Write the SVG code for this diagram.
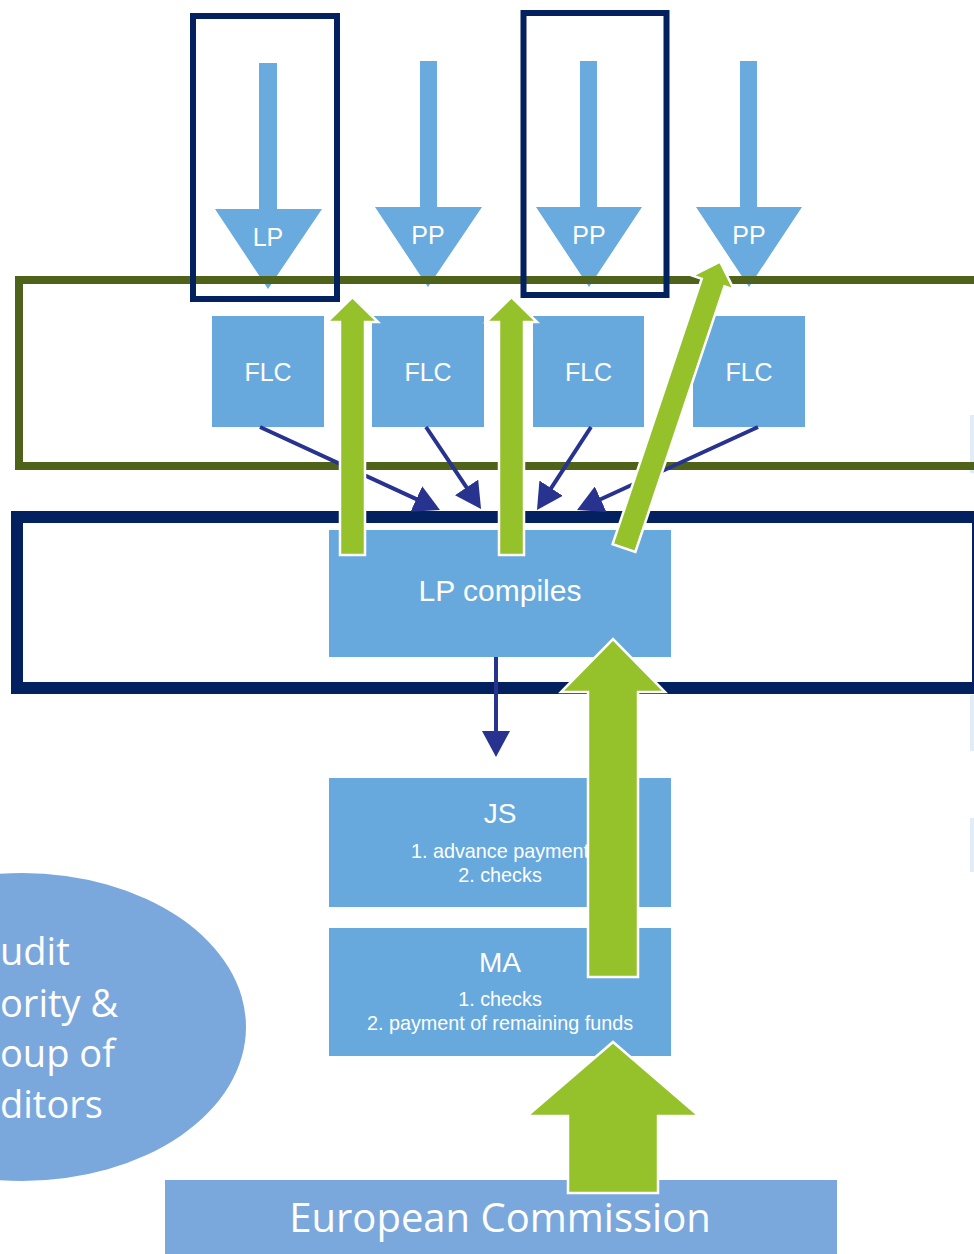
<svg xmlns="http://www.w3.org/2000/svg" width="974" height="1254" viewBox="0 0 974 1254">
  <defs>
    <style>
      .box { fill: #67a9dd; }
      .drop { fill: #69aadf; }
      .soft { fill: #7ba8dc; }
      .lbl { font-family: "Liberation Sans", Arial, sans-serif; fill: #ffffff; text-anchor: middle; }
      .hum { font-family: "Open Sans", "Noto Sans", sans-serif; fill: #ffffff; text-anchor: middle; }
      .hum-left { font-family: "Open Sans", "Noto Sans", sans-serif; fill: #ffffff; text-anchor: start; }
      .frame-navy { fill: none; stroke: #03205f; }
      .frame-green { fill: none; stroke: #4f6219; stroke-width: 8; }
      .link { fill: none; stroke: #27338f; stroke-width: 4; marker-end: url(#head); }
      .flow { fill: #95c12b; stroke: #ffffff; stroke-width: 2.5; stroke-linejoin: miter; }
      .sliver { fill: #e2ecf7; }
    </style>
    <marker id="head" viewBox="0 0 26 28" refX="6" refY="14" markerWidth="26" markerHeight="28" markerUnits="userSpaceOnUse" orient="auto">
      <path d="M0,0 L26,14 L0,28 Z" fill="#27338f"/>
    </marker>
  </defs>

  <rect width="974" height="1254" fill="#ffffff"/>

  <!-- faint slivers along the right edge -->
  <rect class="sliver" x="970" y="415" width="4" height="58"/>
  <rect class="sliver" x="970" y="695" width="4" height="56"/>
  <rect class="sliver" x="970" y="818" width="4" height="54"/>

  <!-- partner drop arrows -->
  <g id="lp-arrow">
    <path class="drop" d="M259,63 H277 V209 H322 L268,289 L215,209 H259 Z"/>
    <text class="lbl" x="268" y="246" font-size="25">LP</text>
  </g>
  <g id="pp-arrow-1">
    <path class="drop" d="M420,61 H437 V207 H482 L428,287 L375,207 H420 Z"/>
    <text class="lbl" x="428" y="244" font-size="25">PP</text>
  </g>
  <g id="pp-arrow-2">
    <path class="drop" d="M580,61 H597 V207 H642 L589,287 L536,207 H580 Z"/>
    <text class="lbl" x="589" y="244" font-size="25">PP</text>
  </g>
  <g id="pp-arrow-3">
    <path class="drop" d="M740,61 H757 V207 H802 L749,287 L696,207 H740 Z"/>
    <text class="lbl" x="749" y="244" font-size="25">PP</text>
  </g>

  <!-- control level frame -->
  <g id="flc-band">
    <rect class="frame-green" x="19" y="280" width="990" height="186"/>
  </g>

  <!-- lead partner level frame -->
  <g id="lp-band">
    <rect class="frame-navy" stroke-width="12" x="17" y="517" width="961" height="171"/>
  </g>

  <!-- highlighted partners -->
  <g id="lp-highlight">
    <rect class="frame-navy" stroke-width="6" x="193" y="16" width="144" height="283"/>
  </g>
  <g id="pp-highlight">
    <rect class="frame-navy" stroke-width="6" x="523.5" y="13" width="143" height="282"/>
  </g>

  <!-- first level controllers -->
  <g id="flc-1">
    <rect class="box" x="212" y="316" width="112" height="111"/>
    <text class="lbl" x="268" y="381" font-size="25">FLC</text>
  </g>
  <g id="flc-2">
    <rect class="box" x="372" y="316" width="112" height="111"/>
    <text class="lbl" x="428" y="381" font-size="25">FLC</text>
  </g>
  <g id="flc-3">
    <rect class="box" x="533" y="316" width="111" height="111"/>
    <text class="lbl" x="588.5" y="381" font-size="25">FLC</text>
  </g>
  <g id="flc-4">
    <rect class="box" x="693" y="316" width="112" height="111"/>
    <text class="lbl" x="749" y="381" font-size="25">FLC</text>
  </g>

  <g id="lp-compiles">
    <rect class="box" x="329" y="530" width="342" height="127"/>
    <text class="lbl" x="500" y="601" font-size="30">LP compiles</text>
  </g>

  <g id="js">
    <rect class="box" x="329" y="778" width="342" height="129"/>
    <text class="lbl" x="500" y="823" font-size="28">JS</text>
    <text class="lbl" x="500" y="858" font-size="19.8">1. advance payment</text>
    <text class="lbl" x="500" y="882" font-size="19.8">2. checks</text>
  </g>

  <g id="ma">
    <rect class="box" x="329" y="928" width="342" height="128"/>
    <text class="lbl" x="500" y="972" font-size="28">MA</text>
    <text class="lbl" x="500" y="1006" font-size="19.8">1. checks</text>
    <text class="lbl" x="500" y="1030" font-size="19.8">2. payment of remaining funds</text>
  </g>

  <g id="audit">
    <ellipse class="soft" cx="22" cy="1027" rx="224" ry="154"/>
    <text class="hum-left" x="0" y="965" font-size="38">udit</text>
    <text class="hum-left" x="0" y="1017" font-size="38">ority &amp;</text>
    <text class="hum-left" x="0" y="1067" font-size="38">oup of</text>
    <text class="hum-left" x="0" y="1118" font-size="38">ditors</text>
  </g>

  <g id="ec">
    <rect class="soft" x="165" y="1180" width="672" height="74"/>
    <text class="hum" x="500" y="1232" font-size="40">European Commission</text>
  </g>

  <g id="connectors">
    <!-- reports from controllers to the lead partner -->
    <line class="link" x1="260" y1="427" x2="421.8" y2="501.6"/>
    <line class="link" x1="426" y1="427" x2="469.9" y2="492.4"/>
    <line class="link" x1="591" y1="427" x2="547.9" y2="493.2"/>
    <line class="link" x1="758" y1="427" x2="595.2" y2="501.7"/>
    <line class="link" x1="496" y1="657" x2="496" y2="737"/>

    <!-- payment flows -->
    <path class="flow" d="M340,555 V322 H327 L352.5,297 L378,322 H365 V555 Z"/>
    <path class="flow" d="M499,555 V322 H486 L511.5,297 L537,322 H524 V555 Z"/>
    <path class="flow" transform="translate(624,548) rotate(18.56)" d="M-12,0 V-280 H-22 L0,-302 L22,-280 H12 V0 Z"/>
    <path class="flow" d="M588,977 V692 H561 L613,639 L665,692 H638 V977 Z"/>
    <path class="flow" d="M568,1193 V1116 H527 L613,1042 L699,1116 H658 V1193 Z"/>
  </g>
</svg>
